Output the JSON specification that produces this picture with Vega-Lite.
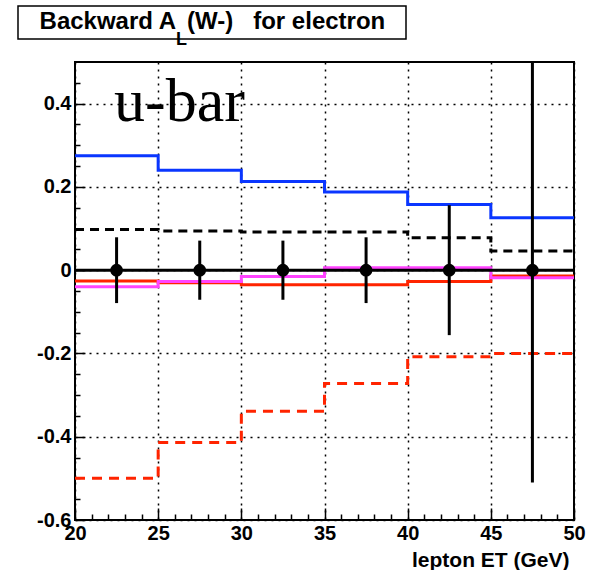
{
  "$schema": "https://vega.github.io/schema/vega-lite/v6.json",
  "padding": {"left": 17, "top": 5, "right": 5, "bottom": 0},
  "background": "white",
  "width": 499,
  "height": 458,
  "view": {"stroke": "black", "strokeWidth": 2},
  "config": {
    "font": "Liberation Sans",
    "axis": {"labelFont": "Liberation Sans", "titleFont": "Liberation Sans", "labelColor": "black", "titleColor": "black", "tickColor": "black"}
  },
  "datasets": {
    "curves": [
      {"series": "c1", "x": 20, "y": 0.275}, {"series": "c1", "x": 25, "y": 0.240}, {"series": "c1", "x": 30, "y": 0.213}, {"series": "c1", "x": 35, "y": 0.188}, {"series": "c1", "x": 40, "y": 0.158}, {"series": "c1", "x": 45, "y": 0.126}, {"series": "c1", "x": 50, "y": 0.126},
      {"series": "c2", "x": 20, "y": 0.098}, {"series": "c2", "x": 25, "y": 0.094}, {"series": "c2", "x": 30, "y": 0.092}, {"series": "c2", "x": 35, "y": 0.092}, {"series": "c2", "x": 40, "y": 0.078}, {"series": "c2", "x": 45, "y": 0.046}, {"series": "c2", "x": 50, "y": 0.046},
      {"series": "c3", "x": 20, "y": -0.500}, {"series": "c3", "x": 25, "y": -0.414}, {"series": "c3", "x": 30, "y": -0.339}, {"series": "c3", "x": 35, "y": -0.272}, {"series": "c3", "x": 40, "y": -0.208}, {"series": "c3", "x": 45, "y": -0.200}, {"series": "c3", "x": 50, "y": -0.200},
      {"series": "c4", "x": 20, "y": -0.026}, {"series": "c4", "x": 25, "y": -0.030}, {"series": "c4", "x": 30, "y": -0.035}, {"series": "c4", "x": 35, "y": -0.035}, {"series": "c4", "x": 40, "y": -0.027}, {"series": "c4", "x": 45, "y": -0.014}, {"series": "c4", "x": 50, "y": -0.014},
      {"series": "c5", "x": 20, "y": -0.040}, {"series": "c5", "x": 25, "y": -0.027}, {"series": "c5", "x": 30, "y": -0.015}, {"series": "c5", "x": 35, "y": 0.006}, {"series": "c5", "x": 40, "y": 0.006}, {"series": "c5", "x": 45, "y": -0.018}, {"series": "c5", "x": 50, "y": -0.018},
      {"series": "c6", "x": 20, "y": 0}, {"series": "c6", "x": 25, "y": 0}, {"series": "c6", "x": 30, "y": 0}, {"series": "c6", "x": 35, "y": 0}, {"series": "c6", "x": 40, "y": 0}, {"series": "c6", "x": 45, "y": 0}, {"series": "c6", "x": 50, "y": 0}
    ],
    "points": [
      {"x": 22.5, "y": 0, "lo": -0.079, "hi": 0.079},
      {"x": 27.5, "y": 0, "lo": -0.071, "hi": 0.071},
      {"x": 32.5, "y": 0, "lo": -0.071, "hi": 0.071},
      {"x": 37.5, "y": 0, "lo": -0.079, "hi": 0.079},
      {"x": 42.5, "y": 0, "lo": -0.156, "hi": 0.156},
      {"x": 47.5, "y": 0, "lo": -0.51, "hi": 0.51}
    ],
    "titletext": [{"a": "Backward A", "b": "L", "c": "(W-)\u00a0\u00a0 for electron"}]
  },
  "resolve": {"axis": {"x": "independent", "y": "independent"}},
  "layer": [
    {
      "data": {"name": "curves"},
      "mark": {"type": "line", "interpolate": "step-after", "strokeWidth": 3, "clip": true},
      "encoding": {
        "x": {"field": "x", "type": "quantitative",
          "scale": {"domain": [20, 50], "nice": false, "zero": false},
          "axis": {"orient": "bottom", "values": [20, 25, 30, 35, 40, 45, 50], "format": "d", "title": "lepton ET (GeV)", "titleX": 494, "titleAlign": "right", "titleFontSize": 21, "titleFontWeight": "bold", "titlePadding": 6, "labelFontSize": 20, "labelFontWeight": "bold", "labelFlush": false, "labelOverlap": false, "tickSize": -12, "tickWidth": 1.5, "labelPadding": 15, "domain": false, "grid": true, "gridDash": [2, 5], "gridColor": "black", "gridWidth": 1.5, "gridOpacity": 1}},
        "y": {"field": "y", "type": "quantitative",
          "scale": {"domain": [-0.6, 0.5], "nice": false, "zero": false},
          "axis": {"orient": "left", "values": [-0.6, -0.4, -0.2, 0, 0.2, 0.4], "labelExpr": "datum.value == 0 ? '0' : (datum.value < 0 ? '-' + format(-datum.value, '.1f') : format(datum.value, '.1f'))", "title": null, "labelFontSize": 20, "labelFontWeight": "bold", "labelFlush": false, "labelOverlap": false, "labelBaseline": "middle", "tickSize": -10, "tickWidth": 1.5, "labelPadding": 14, "domain": false, "grid": true, "gridDash": [2, 5], "gridColor": "black", "gridWidth": 1.5, "gridOpacity": 1}},
        "color": {"field": "series", "type": "nominal", "legend": null,
          "scale": {"domain": ["c1", "c2", "c3", "c4", "c5", "c6"], "range": ["#0a36ff", "#000000", "#ff2400", "#ff2400", "#ff44ff", "#000000"]}},
        "strokeDash": {"field": "series", "type": "nominal", "legend": null,
          "scale": {"domain": ["c1", "c2", "c3", "c4", "c5", "c6"], "range": [[1, 0], [9, 6], [10, 7], [1, 0], [1, 0], [1, 0]]}}
      }
    },
    {
      "data": {"name": "points"},
      "mark": {"type": "rule", "strokeWidth": 3, "color": "black", "clip": true},
      "encoding": {
        "x": {"field": "x", "type": "quantitative",
          "axis": {"orient": "bottom", "values": [21, 22, 23, 24, 26, 27, 28, 29, 31, 32, 33, 34, 36, 37, 38, 39, 41, 42, 43, 44, 46, 47, 48, 49], "labels": false, "title": null, "domain": false, "grid": false, "tickSize": -6, "tickWidth": 1.5}},
        "y": {"field": "lo", "type": "quantitative",
          "axis": {"orient": "left", "values": [-0.55, -0.5, -0.45, -0.35, -0.3, -0.25, -0.15, -0.1, -0.05, 0.05, 0.1, 0.15, 0.25, 0.3, 0.35, 0.45], "labels": false, "title": null, "domain": false, "grid": false, "tickSize": -5, "tickWidth": 1.5}},
        "y2": {"field": "hi"}
      }
    },
    {
      "data": {"name": "points"},
      "mark": {"type": "point", "filled": true, "size": 160, "color": "black", "opacity": 1},
      "encoding": {
        "x": {"field": "x", "type": "quantitative", "axis": null},
        "y": {"field": "y", "type": "quantitative", "axis": null}
      }
    },
    {
      "data": {"values": [{"label": "u-bar"}]},
      "mark": {"type": "text", "font": "Liberation Serif", "fontSize": 62, "align": "left", "baseline": "alphabetic", "color": "black"},
      "encoding": {
        "x": {"datum": 22.35, "type": "quantitative", "axis": null},
        "y": {"datum": 0.359, "type": "quantitative", "axis": null},
        "text": {"field": "label"}
      }
    },
    {
      "data": {"name": "titletext"},
      "mark": {"type": "rect", "fill": "white", "stroke": "black", "strokeWidth": 1.5},
      "encoding": {
        "x": {"datum": 16.573, "type": "quantitative", "axis": null},
        "x2": {"datum": 39.9},
        "y": {"datum": 0.6345, "type": "quantitative", "axis": null},
        "y2": {"datum": 0.5552}
      }
    },
    {
      "data": {"name": "titletext"},
      "mark": {"type": "text", "font": "Liberation Sans", "fontWeight": "bold", "fontSize": 24, "align": "right", "baseline": "alphabetic", "dx": -36, "color": "black"},
      "encoding": {
        "x": {"datum": 28.24, "type": "quantitative", "axis": null},
        "y": {"datum": 0.579, "type": "quantitative", "axis": null},
        "text": {"field": "a"}
      }
    },
    {
      "data": {"name": "titletext"},
      "mark": {"type": "text", "font": "Liberation Sans", "fontWeight": "bold", "fontSize": 18, "align": "left", "baseline": "alphabetic", "dx": -36, "dy": 16, "color": "black"},
      "encoding": {
        "x": {"datum": 28.24, "type": "quantitative", "axis": null},
        "y": {"datum": 0.579, "type": "quantitative", "axis": null},
        "text": {"field": "b"}
      }
    },
    {
      "data": {"name": "titletext"},
      "mark": {"type": "text", "font": "Liberation Sans", "fontWeight": "bold", "fontSize": 24, "align": "left", "baseline": "alphabetic", "dx": -25, "color": "black"},
      "encoding": {
        "x": {"datum": 28.24, "type": "quantitative", "axis": null},
        "y": {"datum": 0.579, "type": "quantitative", "axis": null},
        "text": {"field": "c"}
      }
    }
  ]
}
